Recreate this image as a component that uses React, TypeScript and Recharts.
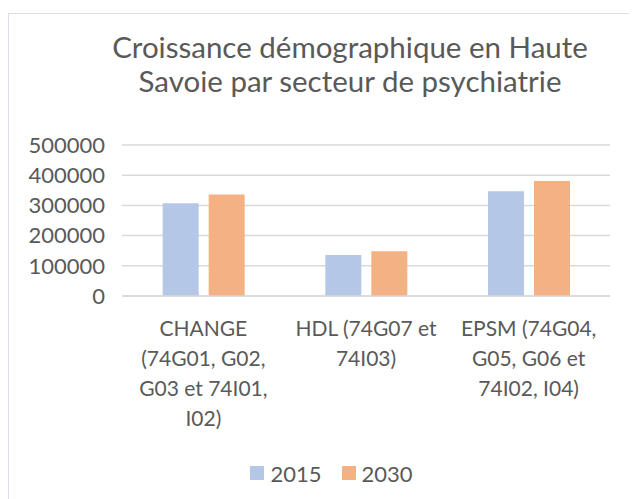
import React from 'react'
import { Bar, BarChart, CartesianGrid, Legend, XAxis, YAxis } from 'recharts'

// Categories (secteurs), one line per label row
const categories: string[] = [
  'CHANGE\n(74G01, G02,\nG03 et 74I01,\nI02)',
  'HDL (74G07 et\n74I03)',
  'EPSM (74G04,\nG05, G06 et\n74I02, I04)',
]

// Population per secteur
const values2015: number[] = [307000, 136000, 347000]
const values2030: number[] = [336000, 148000, 381000]

const yTicks: number[] = [0, 100000, 200000, 300000, 400000, 500000]

const titleLines: string[] = [
  'Croissance démographique en Haute',
  'Savoie par secteur de psychiatrie',
]

const FONT = 'Lato, "Open Sans", sans-serif'
const TEXT = '#595959'

const data = categories.map((name, i) => ({
  name,
  v2015: values2015[i],
  v2030: values2030[i],
}))

const CategoryTick = (props: any) => {
  const { x, y, payload } = props
  const lines: string[] = String(payload.value).split('\n')
  return (
    <text x={x} y={y + 40} textAnchor='middle' fill={TEXT} fontSize={21} fontFamily={FONT}>
      {lines.map((line, i) => (
        <tspan key={i} x={x} dy={i === 0 ? 0 : 30}>
          {line}
        </tspan>
      ))}
    </text>
  )
}

const LegendContent = () => {
  const items = [
    { label: '2015', color: '#B4C7E7' },
    { label: '2030', color: '#F4B183' },
  ]
  return (
    <div
      style={{
        display: 'flex',
        justifyContent: 'center',
        alignItems: 'center',
        paddingLeft: 44,
        fontFamily: FONT,
        fontSize: 22,
        color: TEXT,
        height: 24,
      }}
    >
      {items.map((it) => (
        <div key={it.label} style={{ display: 'flex', alignItems: 'center', margin: '0 10px' }}>
          <span style={{ width: 14, height: 14, background: it.color, marginRight: 6 }} />
          <span>{it.label}</span>
        </div>
      ))}
    </div>
  )
}

const App: React.FC = () => {
  return (
    <div
      style={{
        position: 'relative',
        marginTop: 5,
        width: 640,
        height: 500,
        border: '1px solid #dadfe8',
        background: '#fff',
        boxSizing: 'border-box',
      }}
    >
      <div
        style={{
          position: 'absolute',
          left: 0,
          top: 16,
          width: 682,
          textAlign: 'center',
          fontFamily: FONT,
          fontSize: 29.5,
          lineHeight: '34px',
          color: TEXT,
        }}
      >
        {titleLines.map((l) => (
          <div key={l}>{l}</div>
        ))}
      </div>
      <BarChart
        width={629}
        height={486}
        data={data}
        margin={{ top: 131, right: 28, left: 0, bottom: 15 }}
        barCategoryGap='25%'
        barGap={10}
      >
        <CartesianGrid vertical={false} stroke='#d9d9d9' strokeWidth={1.5} />
        <XAxis
          dataKey='name'
          height={165}
          tickLine={false}
          tickSize={0}
          tickMargin={0}
          axisLine={{ stroke: '#d9d9d9', strokeWidth: 1.5 }}
          tick={<CategoryTick />}
          interval={0}
        />
        <YAxis
          width={113}
          domain={[0, 500000]}
          ticks={yTicks}
          interval={0}
          tickLine={false}
          axisLine={false}
          tickSize={0}
          tickMargin={17}
          tick={{ fill: TEXT, fontSize: 22, fontFamily: FONT }}
        />
        <Legend verticalAlign='bottom' height={24} content={<LegendContent />} />
        <Bar dataKey='v2015' name='2015' fill='#B4C7E7' isAnimationActive={false} />
        <Bar dataKey='v2030' name='2030' fill='#F4B183' isAnimationActive={false} />
      </BarChart>
    </div>
  )
}

export default App
